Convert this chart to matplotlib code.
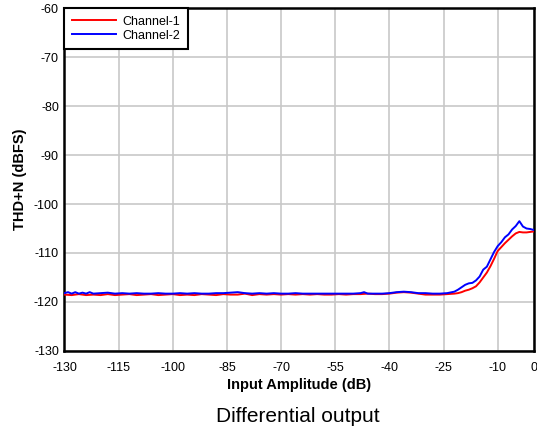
import matplotlib
matplotlib.use("Agg")
import matplotlib.pyplot as plt

plt.rcParams['font.family'] = ['Liberation Sans', 'DejaVu Sans']
plt.rcParams['axes.unicode_minus'] = False

x_ch1 = [-130, -128, -126, -124, -122, -120, -118, -116, -114, -112, -110, -108, -106, -104,
         -102, -100, -98, -96, -94, -92, -90, -88, -86, -84, -82, -80, -78, -76, -74, -72,
         -70, -68, -66, -64, -62, -60, -58, -56, -54, -52, -50, -48, -46, -44, -42, -40,
         -38, -36, -34, -32, -30, -28, -26, -24, -22,
         -21, -20, -19, -18, -17, -16, -15, -14, -13, -12, -11, -10, -9, -8, -7, -6, -5,
         -4, -3, -2, -1, 0]
y_ch1 = [-118.5, -118.6, -118.4, -118.6, -118.5, -118.6, -118.4, -118.6, -118.5, -118.4,
         -118.6, -118.5, -118.4, -118.6, -118.5, -118.4, -118.6, -118.5, -118.6, -118.4,
         -118.5, -118.6, -118.4, -118.5, -118.5, -118.3, -118.6, -118.4, -118.5, -118.4,
         -118.5, -118.4, -118.5, -118.4, -118.5, -118.4, -118.5, -118.5, -118.4, -118.5,
         -118.4, -118.4, -118.3, -118.4, -118.4, -118.3, -118.1, -118.0, -118.1, -118.3,
         -118.5, -118.5, -118.5, -118.4, -118.3,
         -118.2, -118.0, -117.7, -117.5, -117.2, -116.8, -116.0, -115.0, -114.0, -112.7,
         -111.2, -109.6, -108.8, -108.0, -107.3, -106.6, -106.0, -105.7, -105.8, -105.8,
         -105.7, -105.6]

x_ch2 = [-130, -129, -128, -127, -126, -125, -124, -123, -122, -120, -118, -116, -114, -112,
         -110, -108, -106, -104, -102, -100, -98, -96, -94, -92, -90, -88, -86, -84, -82,
         -80, -78, -76, -74, -72, -70, -68, -66, -64, -62, -60, -58, -56, -54, -52, -50,
         -48, -47, -46, -44, -42, -40, -38, -36, -34, -32, -30, -28, -26, -24, -22,
         -21, -20, -19, -18, -17, -16, -15, -14, -13, -12, -11, -10, -9, -8, -7, -6, -5,
         -4, -3, -2, -1, 0]
y_ch2 = [-118.2, -118.0, -118.3, -118.0, -118.3, -118.1, -118.3, -118.0, -118.3, -118.2,
         -118.1, -118.3, -118.2, -118.3, -118.2, -118.3, -118.3, -118.2, -118.3, -118.3,
         -118.2, -118.3, -118.2, -118.3, -118.3, -118.2, -118.2, -118.1, -118.0, -118.2,
         -118.3, -118.2, -118.3, -118.2, -118.3, -118.3, -118.2, -118.3, -118.3, -118.3,
         -118.3, -118.3, -118.3, -118.3, -118.3, -118.2, -118.0, -118.3, -118.3, -118.3,
         -118.2, -118.0, -117.9, -118.0, -118.2, -118.2, -118.3, -118.3, -118.2, -117.9,
         -117.5, -117.0, -116.5, -116.2, -116.1, -115.6, -114.8, -113.4, -112.8, -111.3,
         -109.8, -108.6, -107.8, -106.8, -106.2, -105.2, -104.5, -103.5, -104.6, -105.0,
         -105.1, -105.3]

x_ticks = [-130, -115, -100, -85, -70, -55, -40, -25, -10, 0]
y_ticks = [-130, -120, -110, -100, -90, -80, -70, -60]

fig = plt.figure(figsize=(5.37, 4.29), dpi=100)
ax = fig.add_axes([0.12, 0.182, 0.874, 0.799])

ax.plot(x_ch1, y_ch1, color='#ff0000', lw=1.4, label='Channel-1', zorder=3)
ax.plot(x_ch2, y_ch2, color='#0000ff', lw=1.4, label='Channel-2', zorder=4)

ax.set_xlim(-130, 0)
ax.set_ylim(-130, -60)
ax.set_xticks(x_ticks)
ax.set_yticks(y_ticks)
ax.tick_params(length=0, labelsize=9, pad=4)
ax.tick_params(axis='x', pad=8)
ax.grid(True, color='#c8c8c8', lw=1.2)
ax.set_axisbelow(True)
for s in ax.spines.values():
    s.set_linewidth(1.8)
    s.set_color('black')

ax.set_xlabel('Input Amplitude (dB)', fontsize=10.5, fontweight='bold', labelpad=3)
ax.set_ylabel('THD+N (dBFS)', fontsize=10.5, fontweight='bold', labelpad=5)

leg = ax.legend(loc='upper left', fontsize=9, frameon=True, fancybox=False,
                borderaxespad=0, handlelength=3.5, handletextpad=0.55,
                borderpad=0.6, labelspacing=0.15)
leg.get_frame().set_edgecolor('black')
leg.get_frame().set_linewidth(1.5)
leg.get_frame().set_alpha(1)

fig.text(0.555, 0.028, 'Differential output', ha='center', va='center', fontsize=15)

fig.savefig('out.png', dpi=100)
